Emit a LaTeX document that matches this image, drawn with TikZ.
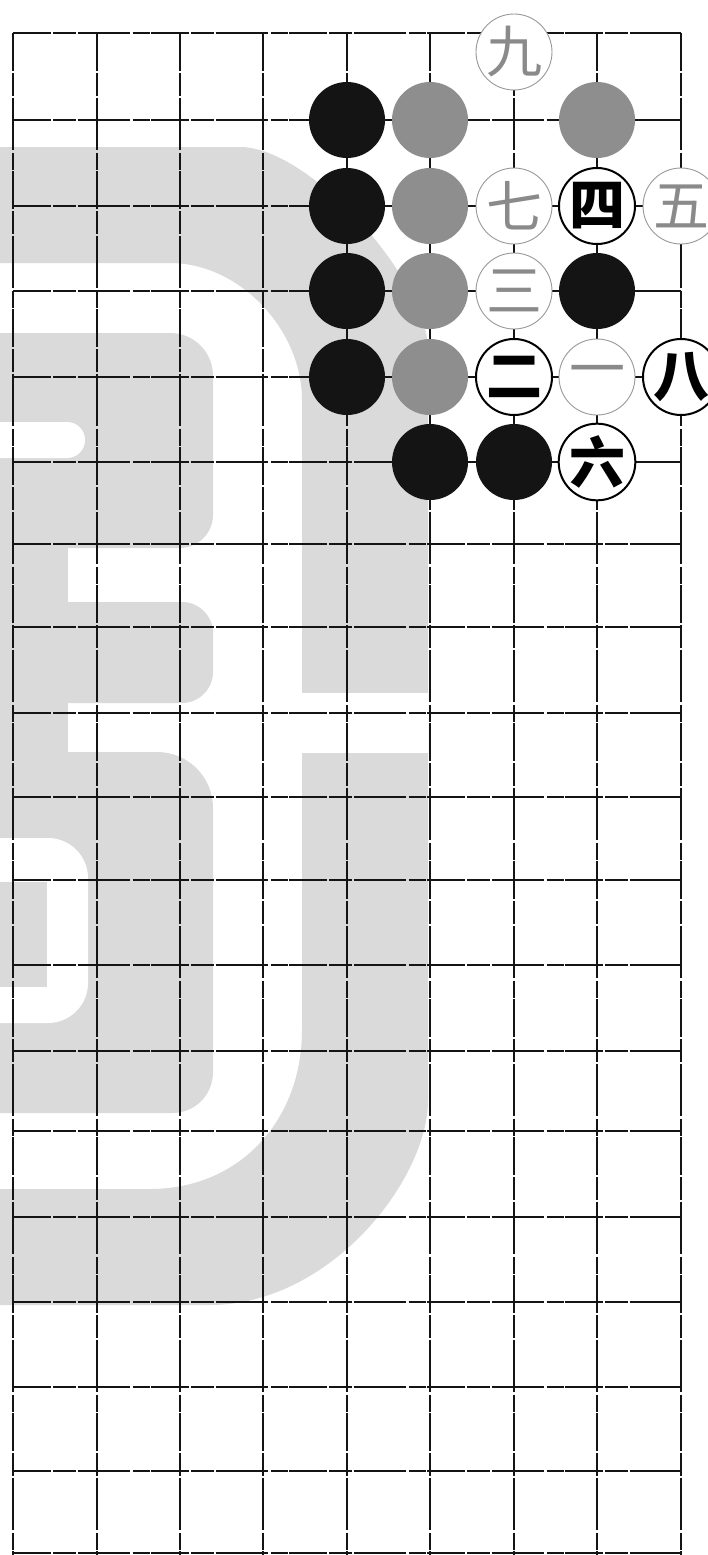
\documentclass[tikz,border=0pt]{standalone}
\usepackage{fontspec}
\newfontfamily\cjk{Noto Sans CJK SC}

\definecolor{wmgray}{HTML}{DADADA}
\definecolor{inkblack}{HTML}{141414}
\definecolor{stonegray}{HTML}{8E8E8E}
\definecolor{faintink}{HTML}{8A8A8A}

\tikzset{
  gridline/.style={line width=1.4pt, inkblack,
    dash pattern=on 38pt off 2pt on 23pt off 1.5pt on 52pt off 3pt on 17pt off 1.5pt},
  stone/.style={circle, minimum size=76pt, inner sep=0pt},
  blackstone/.style={stone, fill=inkblack},
  graystone/.style={stone, fill=stonegray},
  numbold/.style={stone, fill=white, draw=black, line width=2pt,
    font=\cjk\bfseries\fontsize{56}{56}\selectfont},
  numfaint/.style={stone, fill=white, draw=black!40, line width=0.9pt,
    text=faintink, font=\cjk\fontsize{56}{56}\selectfont},
}

\begin{document}
\begin{tikzpicture}[x=1pt, y=-1pt]
    \useasboundingbox[fill=white] (0,0) rectangle (708,1555);

    % watermark in the background
    \fill[wmgray] (-5,147) -- (240,147) .. controls (310,147) and (428,280) .. (428,350)
        -- (428,1100) .. controls (428,1180) and (330,1305) .. (210,1305)
        -- (-5,1305) -- (-5,1189) -- (150,1189) .. controls (240,1189) and (302,1120) .. (302,1030)
        -- (302,400) .. controls (302,330) and (240,263) .. (170,263) -- (-5,263) -- cycle;
    \fill[white] (302,693) rectangle (428,753);
    \fill[wmgray] (-5,333) rectangle (68,1113);
    \fill[wmgray] (-5,333) -- (170,333) .. controls (194,333) and (213,352) .. (213,376)
        -- (213,515) .. controls (213,533) and (198,548) .. (180,548) -- (-5,548) -- cycle;
    \fill[wmgray] (-5,602) -- (182,602) .. controls (199,602) and (213,616) .. (213,633)
        -- (213,672) .. controls (213,689) and (199,703) .. (182,703) -- (-5,703) -- cycle;
    \fill[wmgray] (-5,752) -- (157,752) .. controls (188,752) and (213,777) .. (213,808)
        -- (213,1072) .. controls (213,1095) and (195,1113) .. (172,1113) -- (-5,1113) -- cycle;
    \fill[white] (-5,422) -- (67,422) .. controls (77,422) and (85,430) .. (85,440)
        .. controls (85,450) and (77,458) .. (67,458) -- (-5,458) -- cycle;
    \fill[white] (-5,838) -- (48,838) .. controls (70,838) and (88,856) .. (88,878)
        -- (88,983) .. controls (88,1005) and (70,1023) .. (48,1023) -- (-5,1023) -- cycle;
    \fill[wmgray] (-5,882) rectangle (47,987);

    % board lines
    \foreach \y in {33,120,206,291,377,462,544,627,713,797,880,965,1051,1131,1217,1302,1387,1471,1553} {
        \draw[gridline] (13,\y) -- (681,\y);
    }
    \foreach \x in {13,97,180,263,347,430,514,597,681} {
        \draw[gridline] (\x,33) -- (\x,1555);
    }

    % stones
    \node[blackstone] (b1) at (347,120) {};
    \node[blackstone] (b2) at (347,206) {};
    \node[blackstone] (b3) at (347,291) {};
    \node[blackstone] (b4) at (347,377) {};
    \node[blackstone] (b5) at (430,462) {};
    \node[blackstone] (b6) at (514,462) {};
    \node[blackstone] (b7) at (597,291) {};

    \node[graystone] (g1) at (430,120) {};
    \node[graystone] (g2) at (597,120) {};
    \node[graystone] (g3) at (430,206) {};
    \node[graystone] (g4) at (430,291) {};
    \node[graystone] (g5) at (430,377) {};

    % numbered moves
    \node[numfaint] (m1) at (597,377) {一};
    \node[numbold]  (m2) at (514,377) {二};
    \node[numfaint] (m3) at (514,291) {三};
    \node[numbold]  (m4) at (597,206) {四};
    \node[numfaint] (m5) at (681,206) {五};
    \node[numbold]  (m6) at (597,462) {六};
    \node[numfaint] (m7) at (514,206) {七};
    \node[numbold]  (m8) at (681,377) {八};
    \node[numfaint] (m9) at (514,52)  {九};
\end{tikzpicture}
\end{document}
